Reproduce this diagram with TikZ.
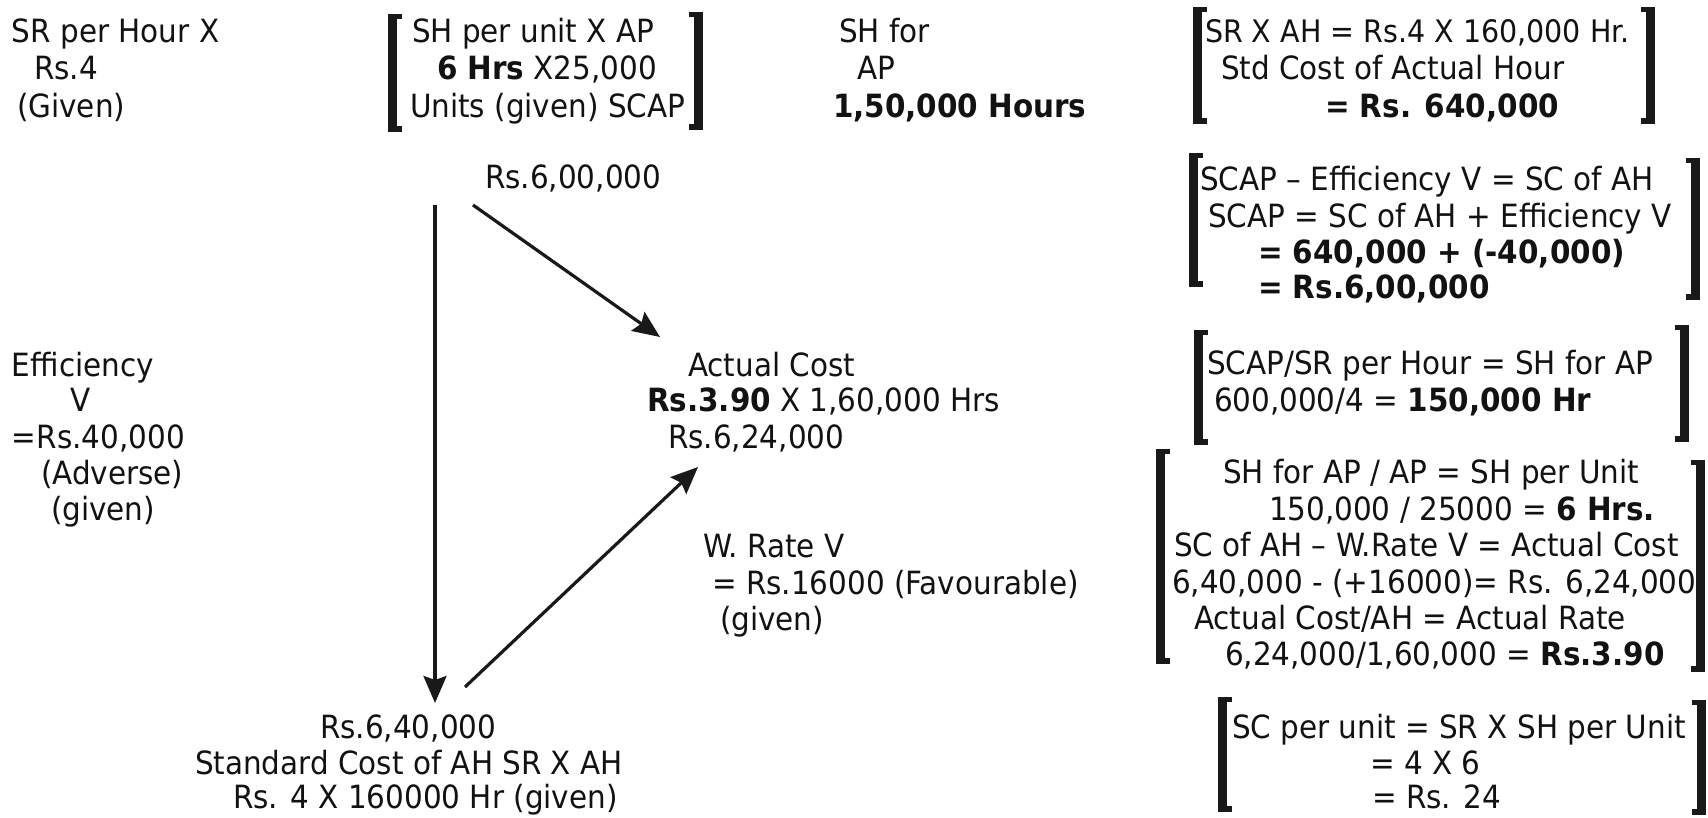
\documentclass[tikz,border=0pt]{standalone}
\usepackage{fontspec}
\setmainfont{DejaVu Sans}[FakeStretch=0.92]
\usetikzlibrary{arrows.meta}
\newcommand\lbrk[3]{% outer x, top, bottom
  \fill[brk] (#1,#2) rectangle ++(9,#3-#2);
  \fill[brk] (#1,#2) rectangle ++(14,5);
  \fill[brk] (#1,#3) rectangle ++(14,-6);}
\newcommand\rbrk[3]{%
  \fill[brk] (#1,#2) rectangle ++(-9,#3-#2);
  \fill[brk] (#1,#2) rectangle ++(-14,5);
  \fill[brk] (#1,#3) rectangle ++(-14,-6);}
\begin{document}
\begin{tikzpicture}[x=1pt,y=-1pt,
  txt/.style={inner sep=0pt, outer sep=0pt, anchor=base west, text=black!93,
    font=\fontsize{32}{38}\selectfont},
  small/.style={font=\fontsize{31}{38}\selectfont},
  arr/.style={line width=3.2pt, draw=black!90,
    -{Stealth[length=27pt,width=23pt,inset=4pt]}},
  brk/.style={fill=black!90}]
\fill[white] (0,0) rectangle (1708,817);
\useasboundingbox (0,0) rectangle (1708,817);

% top-left
\node[txt] (a1) at (12,42) {SR per Hour X};
\node[txt] (a2) at (34,79) {Rs.4};
\node[txt] (a3) at (17,117) {(Given)};

% bracket 1
\lbrk{388}{14}{132}
\rbrk{703}{12}{130}
\node[txt] (b1) at (412,42) {SH per unit X AP};
\node[txt] (b2) at (437,79) {\textbf{6 Hrs} X25,000};
\node[txt] (b3) at (410,117) {Units (given) SCAP};

% SH for AP
\node[txt] (c1) at (839,42) {SH for};
\node[txt] (c2) at (857,79) {AP};
\node[txt] (c3) at (833,117) {\textbf{1,50,000 Hours}};

% bracket 2
\lbrk{1193}{7}{124}
\rbrk{1655}{7}{124}
\node[txt,small] (d1) at (1205,42) {SR X AH = Rs.4 X 160,000 Hr.};
\node[txt] (d2) at (1221,79) {Std Cost of Actual Hour};
\node[txt] (d3) at (1325,117) {\textbf{= Rs. 640,000}};

% SCAP
\node[txt] (e1) at (485,188) {Rs.6,00,000};

% bracket 3
\lbrk{1189}{153}{287}
\rbrk{1700}{158}{300}
\node[txt] (f1) at (1200,190) {SCAP – Efficiency V = SC of AH};
\node[txt] (f2) at (1208,227) {SCAP = SC of AH + Efficiency V};
\node[txt] (f3) at (1258,263) {\textbf{= 640,000 + (-40,000)}};
\node[txt] (f4) at (1258,298) {\textbf{= Rs.6,00,000}};

% bracket 4
\lbrk{1194}{330}{445}
\rbrk{1689}{325}{442}
\node[txt] (g1) at (1207,374) {SCAP/SR per Hour = SH for AP};
\node[txt] (g2) at (1214,411) {600,000/4 = \textbf{150,000 Hr}};

% efficiency variance
\node[txt] (h1) at (12,376) {Efficiency};
\node[txt] (h2) at (70,411) {V};
\node[txt] (h3) at (12,448) {=Rs.40,000};
\node[txt] (h4) at (41,484) {(Adverse)};
\node[txt] (h5) at (51,520) {(given)};

% actual cost
\node[txt] (i1) at (688,376) {Actual Cost};
\node[txt] (i2) at (647,411) {\textbf{Rs.3.90} X 1,60,000 Hrs};
\node[txt] (i3) at (668,448) {Rs.6,24,000};

% bracket 5
\lbrk{1156}{449}{664}
\rbrk{1705}{460}{672}
\node[txt] (j1) at (1223,483) {SH for AP / AP = SH per Unit};
\node[txt] (j2) at (1269,520) {150,000 / 25000 = \textbf{6 Hrs.}};
\node[txt] (j3) at (1174,556) {SC of AH – W.Rate V = Actual Cost};
\node[txt] (j4) at (1172,593) {6,40,000 - (+16000)= Rs. 6,24,000};
\node[txt] (j5) at (1194,629) {Actual Cost/AH = Actual Rate};
\node[txt] (j6) at (1225,665) {6,24,000/1,60,000 = \textbf{Rs.3.90}};

% wage rate variance
\node[txt] (k1) at (703,557) {W. Rate V};
\node[txt] (k2) at (712,594) {= Rs.16000 (Favourable)};
\node[txt] (k3) at (720,630) {(given)};

% standard cost of AH
\node[txt] (l1) at (320,738) {Rs.6,40,000};
\node[txt] (l2) at (195,774) {Standard Cost of AH SR X AH};
\node[txt] (l3) at (233,808) {Rs. 4 X 160000 Hr (given)};

% bracket 6
\lbrk{1218}{697}{812}
\rbrk{1706}{700}{815}
\node[txt] (m1) at (1232,738) {SC per unit = SR X SH per Unit};
\node[txt] (m2) at (1370,774) {= 4 X 6};
\node[txt] (m3) at (1372,808) {= Rs. 24};

% arrows
\coordinate (vS) at (435,205);
\coordinate (vE) at (435,703);
\coordinate (pS) at (473,205);
\coordinate (pE) at (660,337);
\coordinate (qS) at (465,687);
\coordinate (qE) at (698,467);
\draw[arr] (vS) -- (vE);
\draw[arr] (pS) -- (pE);
\draw[arr] (qS) -- (qE);
\end{tikzpicture}
\end{document}
